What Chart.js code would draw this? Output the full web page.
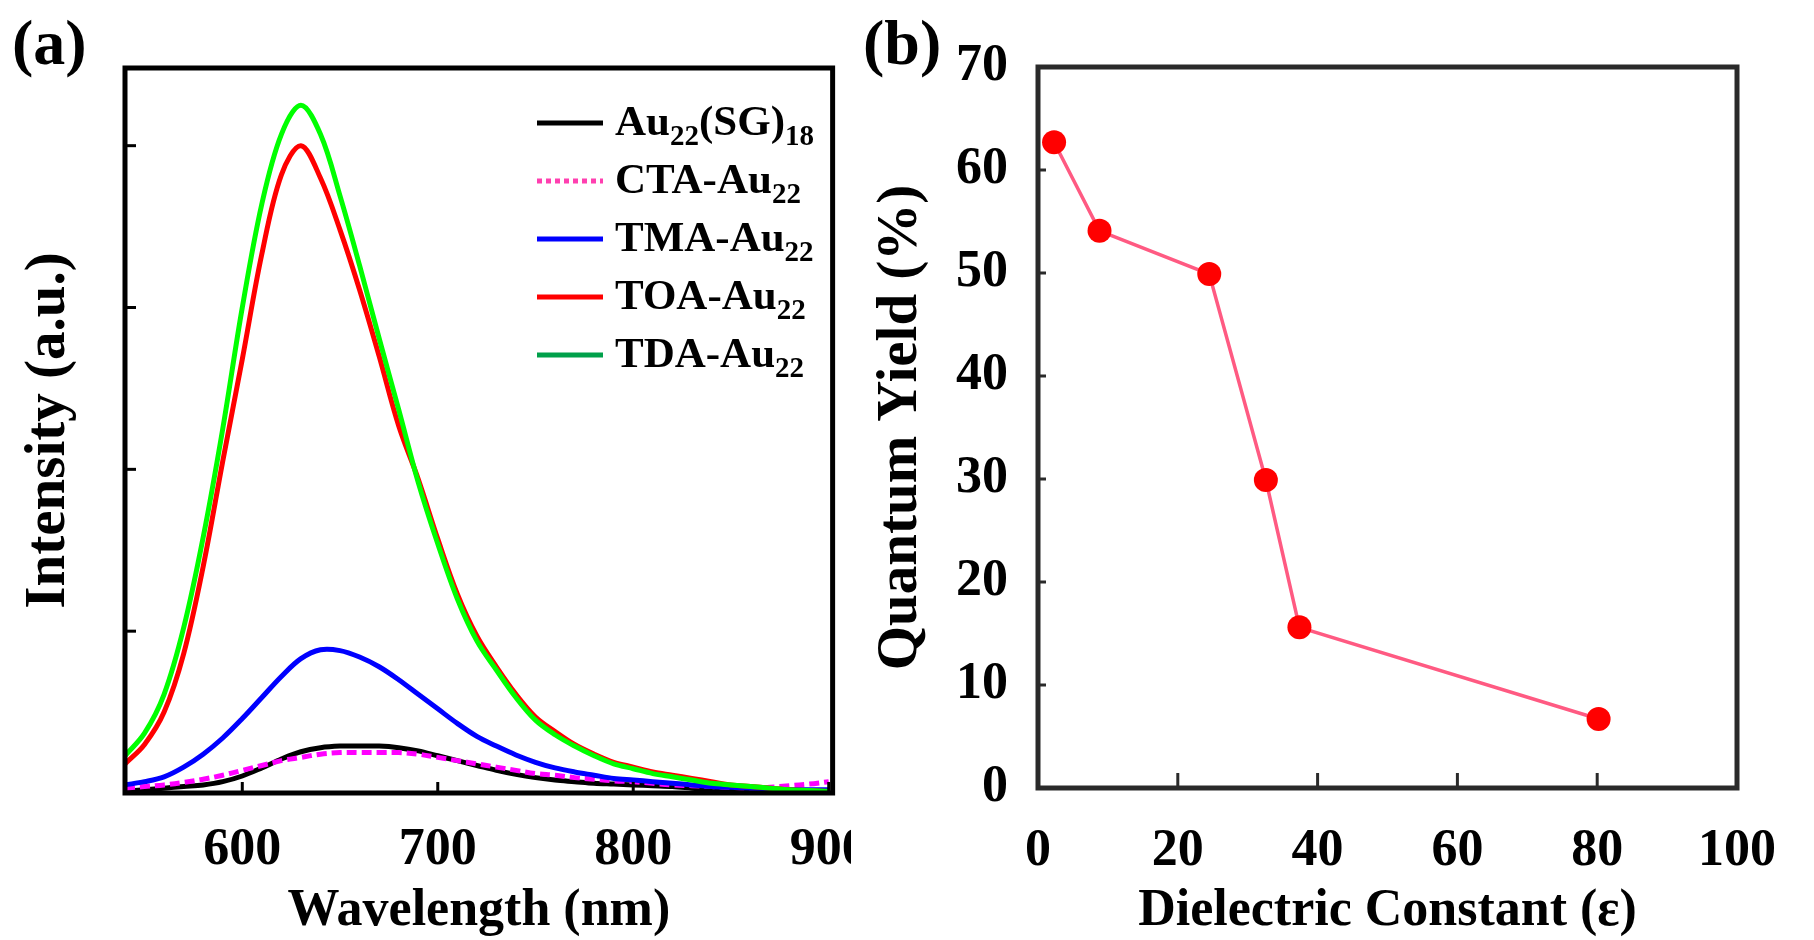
<!DOCTYPE html>
<html>
<head>
<meta charset="utf-8">
<script src="https://cdn.jsdelivr.net/npm/chart.js@4.4.0/dist/chart.umd.min.js"></script>
<style>
html, body { margin: 0; padding: 0; background: #fff; overflow: hidden; }
#wrapA { position: absolute; left: 0; top: 0; width: 900px; height: 940px; }
#wrapB { position: absolute; left: 851px; top: 0; width: 963px; height: 940px; background: #fff; }
</style>
</head>
<body>
<div id="wrapA"><canvas id="chartA" width="900" height="940"></canvas></div>
<div id="wrapB"><canvas id="chartB" width="963" height="940"></canvas></div>
<script>
// ---- panel (a): emission spectra ----
const wavelength = [540, 550, 560, 570, 580, 590, 600, 610, 620, 630, 640, 650, 660, 670, 680, 690, 700, 710, 720,
                    730, 740, 750, 760, 770, 780, 790, 800, 810, 820, 830, 840, 850, 860, 870, 880, 890, 900];
const au22sg18 = [0.01, 0.02, 0.03, 0.04, 0.05, 0.07, 0.105, 0.155, 0.21, 0.255, 0.28, 0.29, 0.29, 0.29, 0.28, 0.26, 0.23, 0.20, 0.17,
                  0.14, 0.115, 0.095, 0.08, 0.07, 0.06, 0.055, 0.05, 0.045, 0.04, 0.03, 0.02, 0.015, 0.01, 0.01, 0.01, 0.01, 0.01];
const ctaAu22 = [0.03, 0.04, 0.05, 0.065, 0.085, 0.11, 0.14, 0.17, 0.20, 0.22, 0.24, 0.25, 0.25, 0.25, 0.25, 0.24, 0.22, 0.20, 0.18,
                 0.16, 0.14, 0.12, 0.11, 0.095, 0.085, 0.075, 0.07, 0.06, 0.05, 0.045, 0.04, 0.035, 0.03, 0.035, 0.045, 0.055, 0.07];
const tmaAu22 = [0.05, 0.07, 0.10, 0.16, 0.24, 0.34, 0.46, 0.59, 0.72, 0.83, 0.885, 0.88, 0.84, 0.78, 0.70, 0.61, 0.52, 0.43, 0.35,
                 0.29, 0.235, 0.19, 0.155, 0.13, 0.11, 0.09, 0.08, 0.07, 0.06, 0.05, 0.04, 0.035, 0.03, 0.025, 0.02, 0.02, 0.02];
const toaAu22 = [0.18, 0.30, 0.50, 0.86, 1.40, 2.05, 2.68, 3.33, 3.82, 4.00, 3.80, 3.48, 3.11, 2.70, 2.27, 1.94, 1.57, 1.23, 0.97,
                 0.78, 0.61, 0.47, 0.38, 0.30, 0.24, 0.19, 0.16, 0.13, 0.11, 0.09, 0.07, 0.05, 0.04, 0.03, 0.02, 0.015, 0.01];
const tdaAu22 = [0.23, 0.37, 0.61, 1.02, 1.58, 2.25, 3.00, 3.64, 4.07, 4.25, 4.07, 3.69, 3.26, 2.81, 2.37, 1.92, 1.54, 1.20, 0.94,
                 0.76, 0.59, 0.45, 0.36, 0.29, 0.23, 0.18, 0.15, 0.12, 0.10, 0.08, 0.06, 0.05, 0.04, 0.03, 0.02, 0.015, 0.01];

const seriesNames = ['Au₂₂(SG)₁₈', 'CTA-Au₂₂', 'TMA-Au₂₂', 'TOA-Au₂₂', 'TDA-Au₂₂'];
const seriesValues = [au22sg18, ctaAu22, tmaAu22, toaAu22, tdaAu22];
const seriesColors = ['#000000', '#ff00ff', '#0000ff', '#ff0000', '#00ff00'];
const legendColors = ['#000000', '#ff3fb0', '#0000ff', '#ff0000', '#00a04a'];
const seriesDash = [[], [10, 5], [], [], []];
const legendDash = [[], [5, 4], [], [], []];

// ---- panel (b): quantum yield vs dielectric constant ----
const dielectric = [2.3, 8.8, 24.5, 32.6, 37.4, 80.2];
const quantumYield = [62.7, 54.1, 49.9, 29.9, 15.6, 6.7];

const SERIF = "'Liberation Serif', 'Times New Roman', serif";
Chart.defaults.font.family = SERIF;
Chart.defaults.color = '#000';

// frame round the plot area and short inward tick marks
const frameAndTicks = {
  id: 'frameAndTicks',
  afterDatasetsDraw(chart, args, o) {
    const { ctx, chartArea: a, scales } = chart;
    ctx.save();
    ctx.strokeStyle = o.color;
    ctx.lineWidth = o.tickWidth;
    scales.y.ticks.forEach(t => {
      const py = scales.y.getPixelForValue(t.value);
      if (py <= a.top + 3 || py >= a.bottom - 3) return;
      ctx.beginPath(); ctx.moveTo(a.left, py); ctx.lineTo(a.left + o.yLen, py); ctx.stroke();
    });
    scales.x.ticks.forEach(t => {
      const px = scales.x.getPixelForValue(t.value);
      if (px <= a.left + 3 || px >= a.right - 3) return;
      ctx.beginPath(); ctx.moveTo(px, a.bottom); ctx.lineTo(px, a.bottom - o.xLen); ctx.stroke();
    });
    ctx.lineWidth = o.frameWidth;
    ctx.strokeRect(a.left, a.top, a.right - a.left, a.bottom - a.top);
    ctx.restore();
  }
};

const panelLabel = {
  id: 'panelLabel',
  afterDraw(chart, args, o) {
    const ctx = chart.ctx;
    ctx.save();
    ctx.font = 'bold ' + o.size + 'px ' + SERIF;
    ctx.fillStyle = '#000';
    ctx.textAlign = 'left';
    ctx.textBaseline = 'alphabetic';
    ctx.fillText(o.text, o.x, o.y);
    ctx.restore();
  }
};

// legend with real subscripts
const subLegend = {
  id: 'subLegend',
  afterDraw(chart, args, o) {
    if (!o.labels) return;
    const ctx = chart.ctx;
    ctx.save();
    o.labels.forEach((lab, i) => {
      const y = o.y + i * o.rowGap;
      ctx.strokeStyle = o.colors[i];
      ctx.lineWidth = o.lineWidth;
      ctx.setLineDash(o.dashes[i]);
      ctx.beginPath(); ctx.moveTo(o.x, y); ctx.lineTo(o.x + o.sampleLen, y); ctx.stroke();
      ctx.setLineDash([]);
      let tx = o.x + o.sampleLen + o.textGap;
      ctx.fillStyle = '#000';
      ctx.textAlign = 'left';
      ctx.textBaseline = 'alphabetic';
      lab.match(/[₀-₉]+|[^₀-₉]+/g).forEach(r => {
        const sub = /[₀-₉]/.test(r);
        const txt = sub ? r.replace(/[₀-₉]/g, c => String(c.charCodeAt(0) - 0x2080)) : r;
        ctx.font = 'bold ' + (sub ? o.subSize : o.size) + 'px ' + SERIF;
        ctx.fillText(txt, tx, y + o.baseOff + (sub ? o.subDrop : 0));
        tx += ctx.measureText(txt).width;
      });
    });
    ctx.restore();
  }
};

const tickFont = { size: 52, weight: 'bold', lineHeight: 1 };

new Chart(document.getElementById('chartA'), {
  type: 'line',
  data: {
    datasets: seriesNames.map((name, i) => ({
      label: name,
      data: wavelength.map((w, j) => ({ x: w, y: seriesValues[i][j] })),
      borderColor: seriesColors[i],
      borderDash: seriesDash[i],
      borderWidth: 5,
      pointRadius: 0,
      fill: false,
      tension: 0.35,
      order: 5 - i
    }))
  },
  options: {
    responsive: false,
    animation: false,
    layout: { padding: { top: 68, right: 52, left: 0, bottom: 0 } },
    plugins: {
      legend: { display: false },
      tooltip: { enabled: false },
      frameAndTicks: { color: '#000', tickWidth: 3, yLen: 11, xLen: 11, frameWidth: 5 },
      panelLabel: { text: '(a)', x: 12, y: 64, size: 64 },
      subLegend: {
        labels: seriesNames, colors: legendColors, dashes: legendDash,
        x: 537, y: 123, rowGap: 58, sampleLen: 66, textGap: 12, lineWidth: 5,
        size: 43, subSize: 29, baseOff: 12, subDrop: 10
      }
    },
    scales: {
      x: {
        type: 'linear', min: 540, max: 902,
        grid: { display: false, drawTicks: false },
        border: { display: false },
        ticks: { stepSize: 100, includeBounds: false, padding: 32, font: tickFont, color: '#000', maxRotation: 0, autoSkip: false },
        title: { display: true, text: 'Wavelength (nm)', color: '#000', font: { size: 52, weight: 'bold', lineHeight: 1 }, padding: { top: 0, bottom: 2 } },
        afterFit: s => { s.height = 147; }
      },
      y: {
        type: 'linear', min: 0, max: 4.48,
        grid: { display: false, drawTicks: false },
        border: { display: false },
        ticks: { display: false, stepSize: 1, includeBounds: false },
        title: { display: true, text: 'Intensity (a.u.)', color: '#000', font: { size: 57, weight: 'bold', lineHeight: 1 }, padding: { top: 21, bottom: 0 } },
        afterFit: s => { s.width = 125; }
      }
    }
  },
  plugins: [frameAndTicks, panelLabel, subLegend]
});

new Chart(document.getElementById('chartB'), {
  type: 'line',
  data: {
    datasets: [{
      label: 'Quantum Yield',
      data: dielectric.map((e, i) => ({ x: e, y: quantumYield[i] })),
      borderColor: '#ff5a82',
      borderWidth: 3.5,
      tension: 0,
      pointRadius: 12,
      pointBackgroundColor: '#ff0000',
      pointBorderColor: '#ff0000',
      pointBorderWidth: 0,
      fill: false
    }]
  },
  options: {
    responsive: false,
    animation: false,
    layout: { padding: { top: 67, right: 54, left: 0, bottom: 0 } },
    plugins: {
      legend: { display: false },
      tooltip: { enabled: false },
      frameAndTicks: { color: '#2a2a2a', tickWidth: 3, yLen: 8, xLen: 15, frameWidth: 5 },
      panelLabel: { text: '(b)', x: 12, y: 64, size: 64 }
    },
    scales: {
      x: {
        type: 'linear', min: 0, max: 100,
        grid: { display: false, drawTicks: false },
        border: { display: false },
        ticks: { stepSize: 20, padding: 38, font: tickFont, color: '#000', maxRotation: 0, autoSkip: false },
        title: { display: true, text: 'Dielectric Constant (ε)', color: '#000', font: { size: 52, weight: 'bold', lineHeight: 1 }, padding: { top: 0, bottom: 2 } },
        afterFit: s => { s.height = 152; }
      },
      y: {
        type: 'linear', min: 0, max: 70,
        grid: { display: false, drawTicks: false },
        border: { display: false },
        ticks: { stepSize: 10, padding: 30, font: tickFont, color: '#000' },
        title: { display: true, text: 'Quantum Yield (%)', color: '#000', font: { size: 57, weight: 'bold', lineHeight: 1 }, padding: { top: 22, bottom: 0 } },
        afterFit: s => { s.width = 187; }
      }
    }
  },
  plugins: [frameAndTicks, panelLabel]
});
</script>
</body>
</html>
